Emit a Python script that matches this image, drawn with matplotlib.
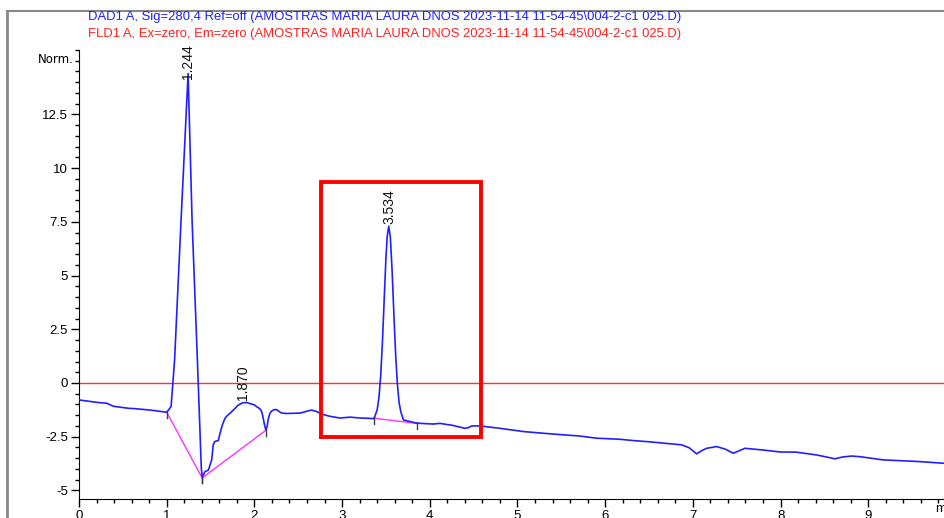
import matplotlib
matplotlib.use("Agg")
import matplotlib.pyplot as plt
from matplotlib.lines import Line2D
import numpy as np

plt.rcParams['font.family'] = ['Liberation Sans', 'DejaVu Sans']

# DAD1 trace (time in min, signal in Norm.)
time = [0.00, 0.24, 0.315, 0.39, 0.42, 0.57, 0.62, 0.81, 1.00, 1.05, 1.09, 1.163, 1.244,
        1.29, 1.35, 1.395, 1.406, 1.438, 1.476, 1.513, 1.532, 1.55, 1.589, 1.608, 1.635,
        1.665, 1.695, 1.722, 1.75, 1.779, 1.81, 1.836, 1.87, 1.911, 1.94, 1.968, 2.0,
        2.025, 2.063, 2.085, 2.101, 2.118, 2.132, 2.145, 2.158, 2.176, 2.196,
        2.225, 2.253, 2.28, 2.31, 2.367, 2.443, 2.52, 2.56, 2.61, 2.653, 2.71, 2.767, 2.86,
        2.976, 3.09, 3.204, 3.28, 3.364, 3.40, 3.42, 3.44, 3.46, 3.48, 3.50, 3.515, 3.532,
        3.55, 3.57, 3.59, 3.61, 3.63, 3.65, 3.67, 3.70, 3.85, 4.04, 4.116, 4.27, 4.40,
        4.44, 4.478, 4.572, 4.80, 5.066, 5.294, 5.45, 5.713, 5.90, 6.17, 6.32, 6.51, 6.872,
        6.96, 7.043, 7.10, 7.157, 7.271, 7.37, 7.461, 7.53, 7.594, 7.80, 7.99, 8.18, 8.41,
        8.53, 8.62, 8.70, 8.81, 8.905, 9.17, 9.55, 9.875]
signal = [-0.79, -0.92, -0.94, -1.08, -1.10, -1.18, -1.19, -1.26, -1.36, -1.10, 1.07, 7.5, 14.4,
          7.5, 1.07, -4.0, -4.36, -4.12, -4.05, -3.58, -2.85, -2.72, -2.68, -2.34, -1.95,
          -1.64, -1.50, -1.41, -1.30, -1.18, -1.05, -0.98, -0.92, -0.91, -0.95, -0.98, -1.02,
          -1.10, -1.20, -1.35, -1.65, -2.00, -2.20, -2.02, -1.68, -1.42, -1.31,
          -1.24, -1.24, -1.32, -1.40, -1.42, -1.41, -1.40, -1.36, -1.30, -1.26, -1.33, -1.45, -1.55,
          -1.63, -1.59, -1.63, -1.64, -1.66, -1.25, -0.69, 0.32, 1.90, 3.88, 5.82, 6.85, 7.30,
          6.80, 5.26, 3.27, 1.39, -0.04, -0.91, -1.35, -1.72, -1.87, -1.91, -1.88, -1.98, -2.11,
          -2.08, -2.00, -2.00, -2.11, -2.26, -2.34, -2.39, -2.47, -2.57, -2.62, -2.68, -2.74, -2.88,
          -3.02, -3.30, -3.15, -3.04, -2.96, -3.08, -3.27, -3.15, -3.04, -3.12, -3.21, -3.22, -3.35,
          -3.45, -3.53, -3.45, -3.40, -3.43, -3.58, -3.65, -3.74]

# integration baselines (start, end) points
base_t = [[1.00, 1.405], [1.405, 2.132], [3.364, 3.85]]
base_y = [[-1.36, -4.42], [-4.42, -2.20], [-1.64, -1.88]]

# peak labels
peak_rt = [1.244, 1.870, 3.534]
peak_label_y = [14.15, -0.80, 7.40]

# highlight box (x0, x1, y0, y1)
box_x = [2.76, 4.58]
box_y = [-2.50, 9.36]

fig = plt.figure(figsize=(9.45, 5.18), dpi=100)
ax = fig.add_axes([79/945, 19/518, 1 - 79/945, (499-50)/518])

ax.axhline(0, color='#ff3030', lw=1.0, zorder=1)
ax.plot(time, signal, color='#2020ff', lw=1.2, zorder=3)
for bt, by in zip(base_t, base_y):
    ax.plot(bt, by, color='#ff30ff', lw=1.0, zorder=2)
    for xx, yy in zip(bt, by):
        ax.plot([xx, xx], [yy + 0.05, yy - 0.25], color='#404040', lw=1.0, zorder=4)

for rt, ly in zip(peak_rt, peak_label_y):
    ax.text(rt, ly, f"{rt:.3f}", rotation=90, ha='center', va='bottom', fontsize=10, color='#111111')

ax.plot([box_x[0], box_x[1], box_x[1], box_x[0], box_x[0]],
        [box_y[0], box_y[0], box_y[1], box_y[1], box_y[0]], color='#ff0000', lw=2.8, zorder=5,
        solid_joinstyle='miter')

ax.set_xlim(0, 9.875)
ax.set_ylim(-5.4, 15.5)
ax.set_xticks(np.arange(0, 10, 1))
ax.set_xticks(np.arange(0, 9.9, 0.2), minor=True)
ax.set_yticks([-5, -2.5, 0, 2.5, 5, 7.5, 10, 12.5])
ax.set_yticklabels(['-5', '-2.5', '0', '2.5', '5', '7.5', '10', '12.5'])
ax.set_yticks(np.arange(-5, 15.6, 0.5), minor=True)
ax.spines['top'].set_visible(False)
ax.spines['right'].set_visible(False)
ax.tick_params(axis='both', which='major', direction='out', length=6, width=1, labelsize=9.5, pad=2)
ax.tick_params(axis='both', which='minor', direction='out', length=3, width=1)
ax.text(9.76, -5.6, "min", ha='left', va='top', fontsize=9.5, clip_on=False)

ax.text(-0.06, 15.05, "Norm.", ha='right', va='center', fontsize=8.5, family='Liberation Sans Narrow')

fig.text(88/945, 1 - 17/518, r"DAD1 A, Sig=280,4 Ref=off (AMOSTRAS MARIA LAURA DNOS 2023-11-14 11-54-45\004-2-c1 025.D)",
         color='#2020ff', fontsize=9.4, ha='left', va='center')
fig.text(88/945, 1 - 34/518, r"FLD1 A, Ex=zero, Em=zero (AMOSTRAS MARIA LAURA DNOS 2023-11-14 11-54-45\004-2-c1 025.D)",
         color='#ff2020', fontsize=9.4, ha='left', va='center')

fig.add_artist(Line2D([7/945, 7/945], [0, 1 - 11/518], color='#888888', lw=2, transform=fig.transFigure))
fig.add_artist(Line2D([7/945, 1], [1 - 11/518, 1 - 11/518], color='#888888', lw=1.5, transform=fig.transFigure))

fig.savefig("out.png", dpi=100)
